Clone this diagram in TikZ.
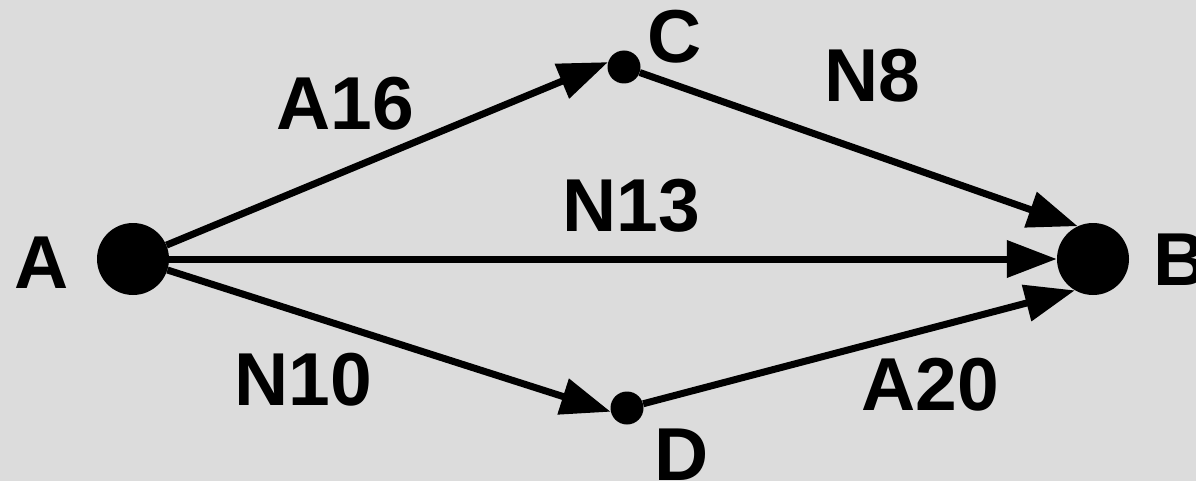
\documentclass[tikz,border=0pt]{standalone}
\usepackage{fontspec}
\setmainfont{Liberation Sans}
\usetikzlibrary{arrows.meta}
\definecolor{bg}{RGB}{220,220,220}
\tikzset{
  bignode/.style={circle,fill=black,inner sep=0pt,minimum size=72pt},
  smallnode/.style={circle,fill=black,inner sep=0pt,minimum size=33pt},
  lbl/.style={inner sep=0pt,font=\fontsize{75}{90}\selectfont\bfseries},
  edge/.style={line width=7pt,-{Triangle[length=50pt,width=36pt]}}
}
\begin{document}
\begin{tikzpicture}[x=1pt,y=-1pt]
\fill[bg] (0,0) rectangle (1196,481);
\useasboundingbox (0,0) rectangle (1196,481);
\node[bignode] (A) at (133,259) {};
\node[bignode] (B) at (1093,259) {};
\node[smallnode] (C) at (624,67) {};
\node[smallnode] (D) at (627,408) {};
\node[lbl] (lA) at (42,263) {A};
\node[lbl] (lB) at (1181,260) {B};
\node[lbl] (lC) at (675,37) {C};
\node[lbl] (lD) at (682,455) {D};
\draw[edge] (A) -- (C.163);
\draw[edge] (A) -- (B);
\draw[edge] (A) -- (D.193);
\draw[edge] (C) -- (B.115);
\draw[edge] (D) -- (B.240);
\node[lbl] (e1) at (345,104) {A16};
\node[lbl] (e2) at (872,76) {N8};
\node[lbl] (e3) at (631,206) {N13};
\node[lbl] (e4) at (303,380) {N10};
\node[lbl] (e5) at (930,385) {A20};
\end{tikzpicture}
\end{document}
